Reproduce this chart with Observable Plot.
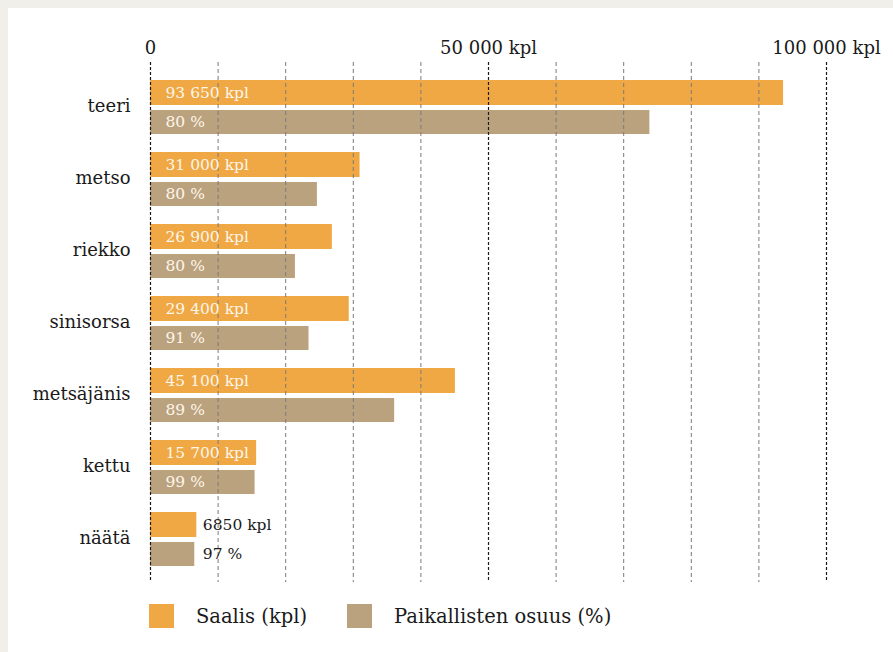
<!DOCTYPE html>
<html>
<head>
<meta charset="utf-8">
<script src="https://cdn.jsdelivr.net/npm/d3@7"></script>
<script src="https://cdn.jsdelivr.net/npm/@observablehq/plot@0.6"></script>
<style>
  html, body { margin: 0; padding: 0; background: #f0efea; }
  #panel { position: absolute; left: 8px; top: 8px; width: 885px; height: 644px; background: #fff; font-family: "DejaVu Serif", serif; }
  #legend { display: flex; align-items: center; margin-top: 6px; padding-left: 141px; font-size: 19.5px; color: #1a1a1a; }
  .item { display: flex; align-items: center; margin-right: 40px; }
  .sw { width: 25px; height: 24px; margin-right: 22px; }
</style>
</head>
<body>
<div id="panel"><div id="chart"></div><div id="legend"></div></div>
<script>
// ---- data ----
const categories = ["teeri", "metso", "riekko", "sinisorsa", "metsäjänis", "kettu", "näätä"];
const saalis = [93650, 31000, 26900, 29400, 45100, 15700, 6850];            // catch (kpl)
const paikallisetKpl = [73870, 24690, 21440, 23450, 36120, 15470, 6550];    // local hunters' share, drawn length
const paikallisetPct = [80, 80, 80, 91, 89, 99, 97];                          // local share (%)
const seriesNames = ["Saalis (kpl)", "Paikallisten osuus (%)"];
const seriesColors = ["#efa843", "#bba27f"];
const axisTicks = [0, 50000, 100000];
const axisTickLabels = ["0", "50 000 kpl", "100 000 kpl"];
const gridTicks = [0, 10000, 20000, 30000, 40000, 50000, 60000, 70000, 80000, 90000, 100000];
const majorTicks = [0, 50000, 100000];

const fmtKpl = v => (v >= 10000 ? d3.format(",")(v).replace(/,/g, " ") : String(v)) + " kpl";
const rows = categories.map((c, i) => ({
  cat: c, saalis: saalis[i], local: paikallisetKpl[i], pct: paikallisetPct[i],
  sLabel: fmtKpl(saalis[i]), pLabel: paikallisetPct[i] + " %"
}));
const inside = d => d.saalis >= 12000;

const chart = Plot.plot({
  width: 885,
  height: 590,
  marginLeft: 142,
  marginRight: 67,
  marginTop: 54,
  marginBottom: 16,
  style: { fontFamily: "DejaVu Serif, serif", fontSize: "18px", color: "#1a1a1a", background: "transparent" },
  x: { domain: [0, 100000], axis: null },
  y: { domain: categories, paddingInner: 0, paddingOuter: 0.111, axis: null },
  marks: [
    Plot.barX(rows, { y: "cat", x: "saalis", fill: seriesColors[0], insetTop: 10, insetBottom: 37 }),
    Plot.barX(rows, { y: "cat", x: "local", fill: seriesColors[1], insetTop: 40, insetBottom: 8 }),
    Plot.ruleX(gridTicks.filter(t => !majorTicks.includes(t)), { stroke: "#7a7a7a", strokeWidth: 1, strokeDasharray: "4,3" }),
    Plot.ruleX(majorTicks, { stroke: "#1a1a1a", strokeWidth: 1.2, strokeDasharray: "3,2" }),
    Plot.axisX(axisTicks, { anchor: "top", tickSize: 0, tickPadding: 9, tickFormat: (d, i) => axisTickLabels[i], fontSize: 18, fill: "#1a1a1a", label: null }),
    Plot.axisY({ tickSize: 0, tickPadding: 20, fontSize: 18, fill: "#1a1a1a", label: null }),
    // inside labels
    Plot.text(rows.filter(inside), { y: "cat", x: 0, text: "sLabel", dx: 15, dy: -13.5, textAnchor: "start", fill: "#fdf6ea", fontSize: 15.5 }),
    Plot.text(rows.filter(inside), { y: "cat", x: 0, text: "pLabel", dx: 15, dy: 16, textAnchor: "start", fill: "#fdf6ea", fontSize: 15.5 }),
    // outside labels
    Plot.text(rows.filter(d => !inside(d)), { y: "cat", x: "saalis", text: "sLabel", dx: 6, dy: -13.5, textAnchor: "start", fill: "#1a1a1a", fontSize: 15.5 }),
    Plot.text(rows.filter(d => !inside(d)), { y: "cat", x: "local", text: "pLabel", dx: 8, dy: 16, textAnchor: "start", fill: "#1a1a1a", fontSize: 15.5 })
  ]
});
document.getElementById("chart").appendChild(chart);

const legend = document.getElementById("legend");
seriesNames.forEach((name, i) => {
  const item = document.createElement("div");
  item.className = "item";
  const sw = document.createElement("div");
  sw.className = "sw";
  sw.style.background = seriesColors[i];
  const label = document.createElement("span");
  label.textContent = name;
  item.appendChild(sw);
  item.appendChild(label);
  legend.appendChild(item);
});
</script>
</body>
</html>
